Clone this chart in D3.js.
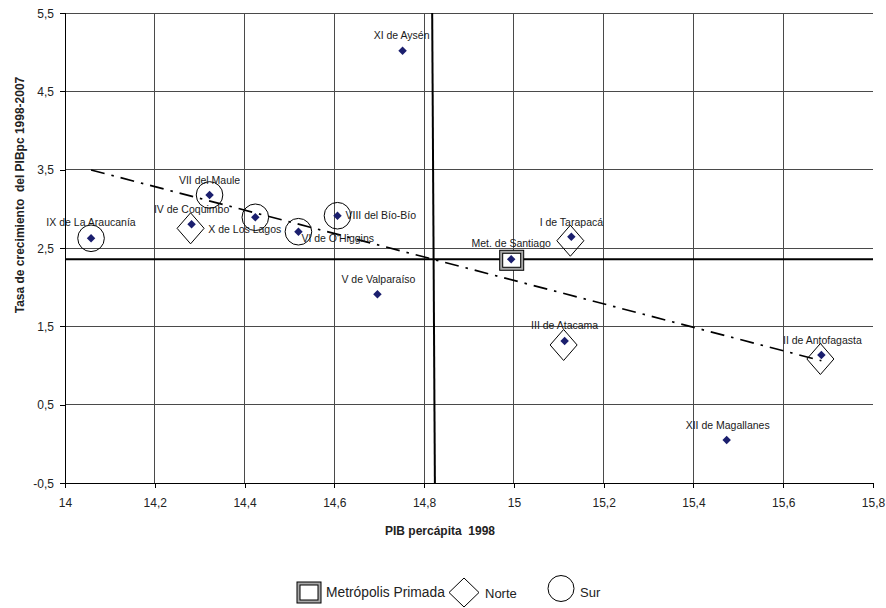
<!DOCTYPE html>
<html>
<head>
<meta charset="utf-8">
<script src="https://cdn.jsdelivr.net/npm/d3@7/dist/d3.min.js"></script>
<style>
  html, body { margin: 0; padding: 0; background: #fff; }
  svg { display: block; font-family: "Liberation Sans", Arial, sans-serif; }
</style>
</head>
<body>
<svg id="chart" width="886" height="608"></svg>
<script>
// ---- Data ----
const regions = ["IX de La Araucanía", "IV de Coquimbo", "VII del Maule", "X de Los Lagos",
  "VI de O'Higgins", "VIII del Bío-Bío", "V de Valparaíso", "XI de Aysén", "Met. de Santiago",
  "III de Atacama", "I de Tarapacá", "XII de Magallanes", "II de Antofagasta"];
const pibPc1998 = [14.058, 14.282, 14.322, 14.424, 14.520, 14.607, 14.696, 14.752, 14.994,
  15.113, 15.128, 15.474, 15.685];
const growth = [2.624, 2.802, 3.177, 2.892, 2.708, 2.912, 1.909, 5.019, 2.356,
  1.313, 2.644, 0.049, 1.134];
// group: "S" = Sur (circle), "N" = Norte (diamond), "M" = Metrópolis Primada (square), "" = none
const groups = ["S", "N", "S", "S", "S", "S", "", "", "M", "N", "N", "", "N"];
const trendX = [14.058, 15.685];
const trendY = [3.496, 1.061];
const meanY = 2.356;
const meanLineX = [14.818, 14.824];
const xTicks = [14, 14.2, 14.4, 14.6, 14.8, 15, 15.2, 15.4, 15.6, 15.8];
const yTicks = [-0.5, 0.5, 1.5, 2.5, 3.5, 4.5, 5.5];
const legendItems = ["Metrópolis Primada", "Norte", "Sur"];

// label placement (pixel offsets relative to the point; layout only)
const labelLayout = [
  {dx: 0, dy: -12, a: "middle"}, {dx: 0, dy: -11, a: "middle"}, {dx: 0, dy: -11, a: "middle"},
  {dx: -47, dy: 16, a: "start"}, {dx: 3, dy: 10, a: "start"}, {dx: 8, dy: 3, a: "start"},
  {dx: 1, dy: -11, a: "middle"}, {dx: -1, dy: -11.5, a: "middle"}, {dx: 0, dy: -12, a: "middle"},
  {dx: 0, dy: -12, a: "middle"}, {dx: 0, dy: -11, a: "middle"}, {dx: 1, dy: -11, a: "middle"},
  {dx: 1, dy: -11, a: "middle"}];

// ---- Chart ----
const svg = d3.select("#chart");
svg.append("rect").attr("width", 886).attr("height", 608).attr("fill", "#fff");

const x = d3.scaleLinear().domain([14, 15.8]).range([65, 873]);
const y = d3.scaleLinear().domain([-0.5, 5.5]).range([483, 13]);
const fmt = d => String(d).replace(".", ",");

// grid
const grid = svg.append("g").attr("shape-rendering", "crispEdges");
grid.selectAll("line.hg").data(yTicks.filter(v => v > -0.5)).join("line")
  .attr("x1", x(14)).attr("x2", x(15.8)).attr("y1", d => y(d)).attr("y2", d => y(d))
  .attr("stroke", "#4a4a4a").attr("stroke-width", 1);
grid.selectAll("line.vg").data(xTicks.filter(v => v > 14 && v < 15.8)).join("line")
  .attr("x1", d => x(d)).attr("x2", d => x(d)).attr("y1", y(5.5)).attr("y2", y(-0.5))
  .attr("stroke", "#4a4a4a").attr("stroke-width", 1);

// axes
const xAxis = d3.axisBottom(x).tickValues(xTicks).tickFormat(fmt).tickSize(5).tickPadding(10);
const yAxis = d3.axisLeft(y).tickValues(yTicks).tickFormat(fmt).tickSize(5).tickPadding(6);
const gx = svg.append("g").attr("transform", `translate(0,${y(-0.5)})`).call(xAxis);
const gy = svg.append("g").attr("transform", `translate(${x(14)},0)`).call(yAxis);
[gx, gy].forEach(g => {
  g.select(".domain").attr("stroke", "#000").attr("shape-rendering", "crispEdges");
  g.selectAll(".tick line").attr("stroke", "#000").attr("shape-rendering", "crispEdges");
  g.selectAll("text").attr("font-size", "12px").attr("fill", "#222")
    .attr("font-family", "Liberation Sans, Arial, sans-serif");
});
gx.select(".domain").attr("d", `M${x(14)},0H${x(15.8)}`);
gy.select(".domain").attr("d", `M0,${y(-0.5)}V${y(5.5)}`);
gy.selectAll(".tick text").attr("dy", "0.35em");

// mean lines
svg.append("line").attr("x1", x(14)).attr("x2", x(15.8))
  .attr("y1", y(meanY)).attr("y2", y(meanY)).attr("stroke", "#000").attr("stroke-width", 2);
svg.append("line").attr("x1", x(meanLineX[0])).attr("x2", x(meanLineX[1]))
  .attr("y1", y(5.5)).attr("y2", y(-0.5)).attr("stroke", "#000").attr("stroke-width", 2);

// trend line
svg.append("line").attr("x1", x(trendX[0])).attr("y1", y(trendY[0]))
  .attr("x2", x(trendX[1])).attr("y2", y(trendY[1]))
  .attr("stroke", "#000").attr("stroke-width", 1.7).attr("stroke-dasharray", "14,7,2.5,7");

// group shapes
function drawSquare(g, cx, cy, w, h) {
  g.append("rect").attr("x", cx - w / 2).attr("y", cy - h / 2).attr("width", w).attr("height", h)
    .attr("fill", "#a8a8a8").attr("stroke", "#000").attr("stroke-width", 1);
  g.append("rect").attr("x", cx - w / 2 + 3).attr("y", cy - h / 2 + 3).attr("width", w - 6).attr("height", h - 6)
    .attr("fill", "#fff").attr("stroke", "#000").attr("stroke-width", 1);
}
function drawDiamond(g, cx, cy, w, h) {
  g.append("path").attr("d", `M${cx},${cy - h / 2}L${cx + w / 2},${cy}L${cx},${cy + h / 2}L${cx - w / 2},${cy}Z`)
    .attr("fill", "none").attr("stroke", "#000").attr("stroke-width", 1);
}
function drawCircle(g, cx, cy, r) {
  g.append("circle").attr("cx", cx).attr("cy", cy).attr("r", r)
    .attr("fill", "none").attr("stroke", "#000").attr("stroke-width", 1);
}
const shapes = svg.append("g");
regions.forEach((r, i) => {
  const px = x(pibPc1998[i]), py = y(growth[i]);
  if (groups[i] === "S") drawCircle(shapes, px, py, 13.3);
  if (groups[i] === "N") drawDiamond(shapes, px - 1, py + 4, 27, 31);
  if (groups[i] === "M") drawSquare(shapes, px + 0.5, py + 1, 24, 20);
});

// labels
svg.append("g").selectAll("text").data(regions).join("text")
  .attr("x", (d, i) => x(pibPc1998[i]) + labelLayout[i].dx)
  .attr("y", (d, i) => y(growth[i]) + labelLayout[i].dy)
  .attr("text-anchor", (d, i) => labelLayout[i].a)
  .attr("font-size", "10.5px").attr("fill", "#1a1a1a")
  .text(d => d);

// points
svg.append("g").selectAll("path").data(regions).join("path")
  .attr("d", d3.symbol().type(d3.symbolDiamond2).size(46))
  .attr("transform", (d, i) => `translate(${x(pibPc1998[i])},${y(growth[i])})`)
  .attr("fill", "#1b1f6e");

// axis titles
svg.append("text").attr("x", 440).attr("y", 535).attr("text-anchor", "middle")
  .attr("font-size", "12px").attr("font-weight", "bold").attr("fill", "#222")
  .style("white-space", "pre")
  .text("PIB percápita  1998");
svg.append("text").attr("transform", "translate(24,195) rotate(-90)").attr("text-anchor", "middle")
  .attr("font-size", "12px").attr("font-weight", "bold").attr("fill", "#222")
  .style("white-space", "pre")
  .text("Tasa de crecimiento  del PIBpc 1998-2007");

// legend
const lg = svg.append("g");
drawSquare(lg, 309, 592.5, 24, 21);
lg.append("text").attr("x", 326).attr("y", 597).attr("font-size", "13.8px").attr("fill", "#222").text(legendItems[0]);
drawDiamond(lg, 464, 592.5, 30, 29);
lg.append("text").attr("x", 485).attr("y", 598).attr("font-size", "13px").attr("fill", "#222").text(legendItems[1]);
drawCircle(lg, 561, 588.5, 13);
lg.append("text").attr("x", 580).attr("y", 597).attr("font-size", "13px").attr("fill", "#222").text(legendItems[2]);
</script>
</body>
</html>
